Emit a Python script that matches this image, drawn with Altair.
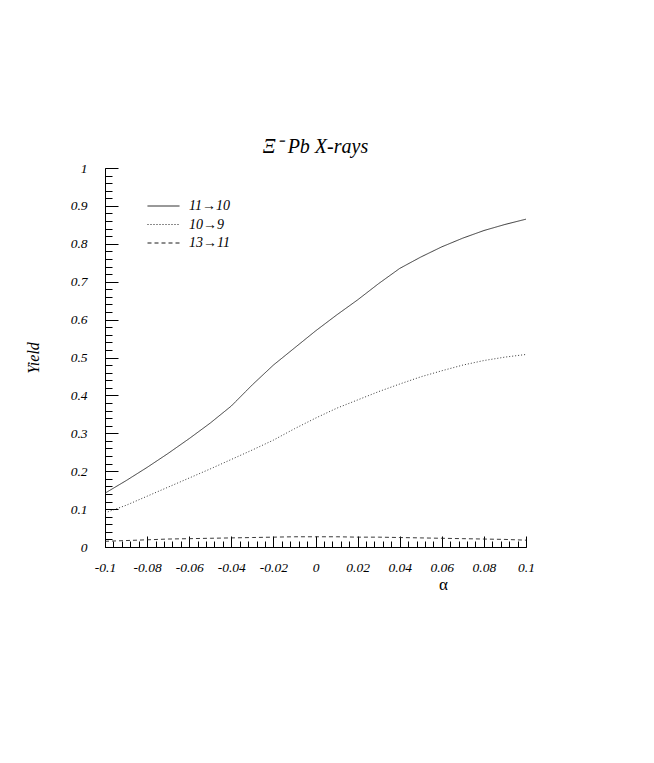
import altair as alt
import pandas as pd

# alpha values
alpha = [-0.1, -0.09, -0.08, -0.07, -0.06, -0.05, -0.04, -0.03, -0.02, -0.01,
         0.0, 0.01, 0.02, 0.03, 0.04, 0.05, 0.06, 0.07, 0.08, 0.09, 0.1]
# yields
y_11_10 = [0.142, 0.175, 0.210, 0.247, 0.286, 0.327, 0.372, 0.428, 0.480, 0.525,
           0.570, 0.612, 0.652, 0.695, 0.735, 0.765, 0.792, 0.815, 0.835, 0.851, 0.865]
y_10_9 = [0.090, 0.110, 0.134, 0.158, 0.182, 0.206, 0.231, 0.256, 0.282, 0.312,
          0.340, 0.366, 0.388, 0.410, 0.430, 0.449, 0.465, 0.480, 0.492, 0.501, 0.508]
y_13_11 = [0.015, 0.017, 0.019, 0.021, 0.022, 0.023, 0.024, 0.025, 0.026, 0.027,
           0.027, 0.027, 0.026, 0.026, 0.025, 0.024, 0.023, 0.022, 0.021, 0.020, 0.018]

series = ["11→10", "10→9", "13→11"]
x_major = [-0.1, -0.08, -0.06, -0.04, -0.02, 0, 0.02, 0.04, 0.06, 0.08, 0.1]
y_major = [0, 0.1, 0.2, 0.3, 0.4, 0.5, 0.6, 0.7, 0.8, 0.9, 1]
x_minor = [round(-0.1 + i * 0.004, 4) for i in range(51)]
y_minor = [round(i * 0.02, 4) for i in range(51)]

rows = []
for name, vals in zip(series, [y_11_10, y_10_9, y_13_11]):
    for a, v in zip(alpha, vals):
        rows.append({"alpha": a, "yield": v, "series": name})
df = pd.DataFrame(rows)

W, H = 421, 379
FONT = "Liberation Serif"

xs = alt.Scale(domain=[-0.1, 0.1], nice=False, zero=False)
ys = alt.Scale(domain=[0, 1], nice=False, zero=False)

lbl_x = alt.Axis(values=x_major, labelExpr="toString(datum.value)", ticks=False, tickSize=0,
                 domain=True, domainColor="black", domainWidth=1, grid=False,
                 labelFont=FONT, labelFontStyle="italic", labelFontSize=13.5,
                 labelColor="black", labelPadding=13, labelFlush=False, labelOverlap=False,
                 title="α", titleFont=FONT, titleFontSize=17, titleFontWeight="normal",
                 titleColor="black", titleX=338, titleY=29, titleAlign="center",
                 titleBaseline="top")
lbl_y = alt.Axis(values=y_major, labelExpr="toString(datum.value)", ticks=False, tickSize=0,
                 domain=True, domainColor="black", domainWidth=1, grid=False,
                 labelFont=FONT, labelFontStyle="italic", labelFontSize=13.5,
                 labelColor="black", labelPadding=18, labelFlush=False, labelOverlap=False,
                 title="Yield", titleFont=FONT, titleFontStyle="italic", titleFontSize=16,
                 titleFontWeight="normal", titleColor="black", titleX=-72, titleY=H / 2,
                 titleAlign="center", titleBaseline="middle", titleAngle=270)

lines = alt.Chart(df).mark_line(color="#222", strokeWidth=0.9).encode(
    x=alt.X("alpha:Q", scale=xs, axis=lbl_x),
    y=alt.Y("yield:Q", scale=ys, axis=lbl_y),
    strokeDash=alt.StrokeDash(
        "series:N",
        scale=alt.Scale(domain=series, range=[[1, 0], [1, 2], [4, 3]]),
        sort=series,
        legend=alt.Legend(
            title=None, orient="none", legendX=48.5, legendY=28,
            symbolType="M-1.684,0H1.684", symbolSize=361,
            symbolStrokeColor="black", symbolStrokeWidth=0.9,
            labelFont=FONT, labelFontStyle="italic", labelFontSize=14,
            labelColor="black", labelOffset=15.5, rowPadding=1.5, padding=0,
        ),
    ),
    detail="series:N",
)


def tick_layer(xvals, yvals, xlen, ylen):
    return alt.Chart(df).mark_line(opacity=0).encode(
        x=alt.X("alpha:Q", scale=xs,
                axis=alt.Axis(orient="top", offset=-H, values=xvals, labels=False,
                              domain=False, grid=False, ticks=True, tickSize=xlen,
                              tickColor="black", tickWidth=1, title=None)),
        y=alt.Y("yield:Q", scale=ys,
                axis=alt.Axis(orient="right", offset=-W, values=yvals, labels=False,
                              domain=False, grid=False, ticks=True, tickSize=ylen,
                              tickColor="black", tickWidth=1, title=None)),
        detail="series:N",
    )


chart = alt.layer(
    lines,
    tick_layer(x_major, y_major, 11, 13),
    tick_layer(x_minor, y_minor, 6, 7),
).resolve_axis(x="independent", y="independent").properties(
    width=W, height=H,
    title=alt.TitleParams("Ξ⁻ Pb X-rays", font=FONT, fontStyle="italic", fontSize=20,
                          fontWeight="normal", color="black", anchor="middle", offset=4),
    autosize=alt.AutoSizeParams(type="none"),
    padding={"left": 97, "top": 160, "right": 100, "bottom": 200},
    background="white",
).configure_view(stroke=None)

chart.save("out.html", embed_options={"renderer": "svg", "actions": False})
